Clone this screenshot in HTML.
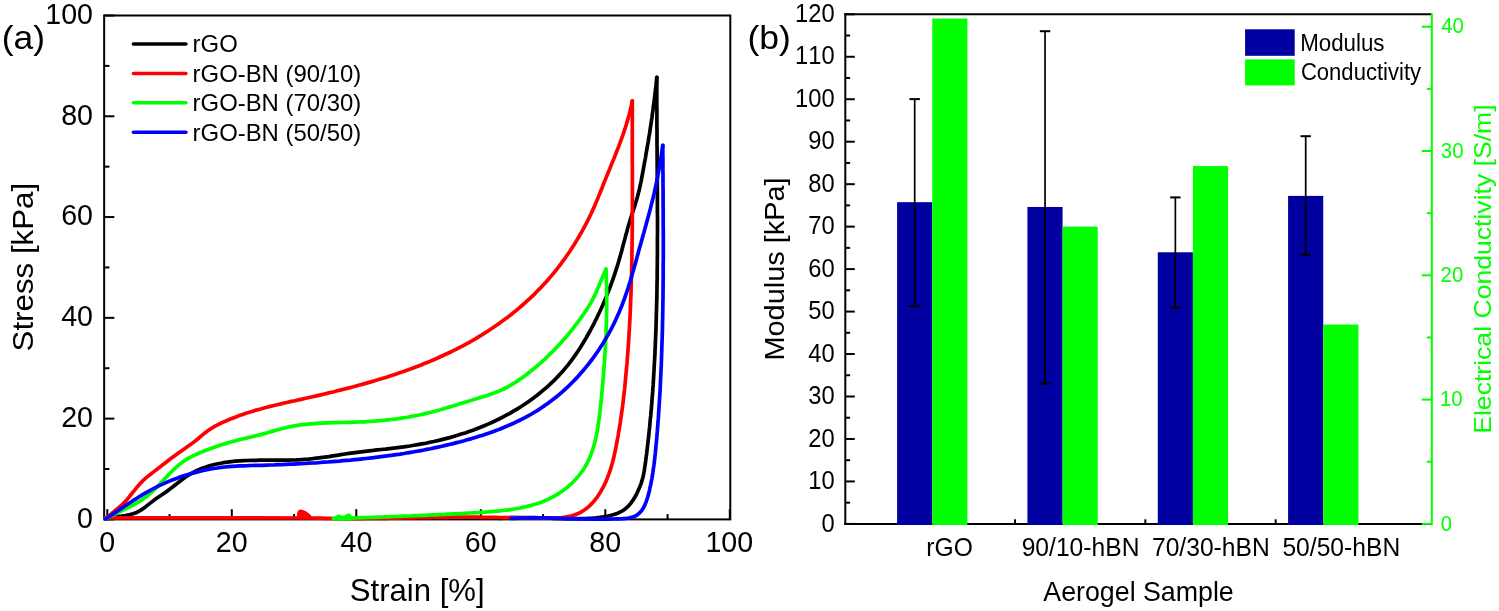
<!DOCTYPE html>
<html><head><meta charset="utf-8"><style>
html,body{margin:0;padding:0;background:#fff;}
svg{display:block;will-change:transform;}
text{font-family:"Liberation Sans",sans-serif;font-kerning:none;font-feature-settings:"kern" 0;}
</style></head><body>
<svg width="1499" height="611" viewBox="0 0 1499 611">
<rect width="1499" height="611" fill="#fff"/>
<rect x="104.15" y="15.50" width="626.15" height="503.90" fill="none" stroke="#000" stroke-width="2"/>
<line x1="104.15" y1="519.40" x2="114.35" y2="519.40" stroke="#000" stroke-width="2" stroke-linecap="butt"/>
<line x1="107.30" y1="519.40" x2="107.30" y2="509.20" stroke="#000" stroke-width="2" stroke-linecap="butt"/>
<line x1="104.15" y1="469.01" x2="109.45" y2="469.01" stroke="#000" stroke-width="2" stroke-linecap="butt"/>
<line x1="169.55" y1="519.40" x2="169.55" y2="514.10" stroke="#000" stroke-width="2" stroke-linecap="butt"/>
<line x1="104.15" y1="418.62" x2="114.35" y2="418.62" stroke="#000" stroke-width="2" stroke-linecap="butt"/>
<line x1="231.80" y1="519.40" x2="231.80" y2="509.20" stroke="#000" stroke-width="2" stroke-linecap="butt"/>
<line x1="104.15" y1="368.23" x2="109.45" y2="368.23" stroke="#000" stroke-width="2" stroke-linecap="butt"/>
<line x1="294.05" y1="519.40" x2="294.05" y2="514.10" stroke="#000" stroke-width="2" stroke-linecap="butt"/>
<line x1="104.15" y1="317.84" x2="114.35" y2="317.84" stroke="#000" stroke-width="2" stroke-linecap="butt"/>
<line x1="356.30" y1="519.40" x2="356.30" y2="509.20" stroke="#000" stroke-width="2" stroke-linecap="butt"/>
<line x1="104.15" y1="267.45" x2="109.45" y2="267.45" stroke="#000" stroke-width="2" stroke-linecap="butt"/>
<line x1="418.55" y1="519.40" x2="418.55" y2="514.10" stroke="#000" stroke-width="2" stroke-linecap="butt"/>
<line x1="104.15" y1="217.06" x2="114.35" y2="217.06" stroke="#000" stroke-width="2" stroke-linecap="butt"/>
<line x1="480.80" y1="519.40" x2="480.80" y2="509.20" stroke="#000" stroke-width="2" stroke-linecap="butt"/>
<line x1="104.15" y1="166.67" x2="109.45" y2="166.67" stroke="#000" stroke-width="2" stroke-linecap="butt"/>
<line x1="543.05" y1="519.40" x2="543.05" y2="514.10" stroke="#000" stroke-width="2" stroke-linecap="butt"/>
<line x1="104.15" y1="116.28" x2="114.35" y2="116.28" stroke="#000" stroke-width="2" stroke-linecap="butt"/>
<line x1="605.30" y1="519.40" x2="605.30" y2="509.20" stroke="#000" stroke-width="2" stroke-linecap="butt"/>
<line x1="104.15" y1="65.89" x2="109.45" y2="65.89" stroke="#000" stroke-width="2" stroke-linecap="butt"/>
<line x1="667.55" y1="519.40" x2="667.55" y2="514.10" stroke="#000" stroke-width="2" stroke-linecap="butt"/>
<line x1="104.15" y1="15.50" x2="114.35" y2="15.50" stroke="#000" stroke-width="2" stroke-linecap="butt"/>
<line x1="729.80" y1="519.40" x2="729.80" y2="509.20" stroke="#000" stroke-width="2" stroke-linecap="butt"/>
<path d="M105.5,519.0 L109.4,517.9 L113.4,517.1 L117.4,516.5 L121.3,516.1 L125.3,515.5 L129.2,514.8 L133.0,513.8 L136.7,512.4 L140.1,510.6 L143.5,508.4 L146.7,505.9 L149.9,503.4 L153.1,500.9 L156.3,498.5 L159.7,496.2 L163.0,494.0 L166.4,491.7 L169.6,489.3 L172.9,486.8 L176.1,484.2 L179.4,481.7 L182.6,479.2 L185.9,476.8 L189.3,474.6 L192.8,472.6 L196.4,470.7 L200.1,469.1 L203.8,467.7 L207.7,466.4 L211.5,465.3 L215.5,464.3 L219.4,463.5 L223.4,462.7 L227.4,462.1 L231.4,461.6 L235.4,461.2 L239.5,460.9 L243.5,460.7 L247.6,460.5 L251.6,460.4 L255.7,460.3 L259.8,460.2 L263.8,460.2 L267.9,460.2 L272.0,460.2 L276.1,460.2 L280.1,460.2 L284.2,460.2 L288.3,460.1 L292.4,460.0 L296.4,459.9 L300.5,459.7 L304.6,459.4 L308.6,459.1 L312.7,458.7 L316.7,458.2 L320.7,457.7 L324.8,457.1 L328.8,456.6 L332.8,455.9 L336.9,455.3 L340.9,454.7 L345.0,454.0 L349.0,453.4 L353.0,452.8 L357.1,452.3 L361.1,451.8 L365.2,451.3 L369.2,450.8 L373.3,450.4 L377.3,449.9 L381.4,449.5 L385.5,449.1 L389.5,448.6 L393.6,448.1 L397.6,447.6 L401.7,447.1 L405.7,446.6 L409.8,446.0 L413.8,445.3 L417.8,444.6 L421.8,443.9 L425.8,443.2 L429.8,442.3 L433.8,441.5 L437.8,440.6 L441.7,439.6 L445.7,438.6 L449.6,437.6 L453.5,436.5 L457.5,435.3 L461.3,434.1 L465.2,432.9 L469.1,431.5 L472.9,430.2 L476.7,428.7 L480.5,427.3 L484.3,425.7 L488.0,424.1 L491.7,422.5 L495.4,420.8 L499.1,419.0 L502.7,417.1 L506.3,415.2 L509.9,413.3 L513.4,411.2 L517.0,409.1 L520.4,407.0 L523.8,404.8 L527.2,402.5 L530.5,400.2 L533.8,397.8 L537.1,395.3 L540.2,392.8 L543.3,390.2 L546.4,387.6 L549.4,384.9 L552.3,382.1 L555.2,379.3 L558.0,376.4 L560.7,373.5 L563.4,370.5 L566.0,367.4 L568.5,364.3 L570.9,361.1 L573.3,357.9 L575.6,354.6 L577.9,351.3 L580.1,347.9 L582.2,344.5 L584.3,341.0 L586.4,337.5 L588.3,334.0 L590.3,330.5 L592.2,326.9 L594.1,323.3 L595.9,319.7 L597.7,316.0 L599.5,312.3 L601.2,308.6 L602.8,304.9 L604.4,301.1 L606.0,297.4 L607.5,293.6 L609.0,289.8 L610.5,286.0 L611.9,282.2 L613.2,278.3 L614.6,274.5 L615.8,270.6 L617.1,266.7 L618.3,262.8 L619.4,259.0 L620.5,255.1 L621.6,251.2 L622.6,247.3 L623.6,243.4 L624.7,239.5 L625.7,235.6 L626.8,231.7 L627.8,227.8 L629.0,223.9 L630.1,220.1 L631.4,216.2 L632.6,212.4 L633.8,208.6 L635.1,204.7 L636.2,200.9 L637.4,197.0 L638.4,193.1 L639.4,189.2 L640.2,185.3 L641.1,181.3 L641.8,177.4 L642.6,173.4 L643.3,169.5 L644.0,165.5 L644.7,161.6 L645.5,157.6 L646.1,153.6 L646.8,149.6 L647.5,145.7 L648.2,141.7 L648.8,137.7 L649.5,133.7 L650.1,129.7 L650.7,125.7 L651.3,121.7 L651.9,117.7 L652.4,113.7 L653.0,109.7 L653.5,105.7 L654.1,101.6 L654.6,97.6 L655.0,93.6 L655.5,89.5 L656.0,85.5 L656.4,81.5 L656.8,77.4" fill="none" stroke="#000000" stroke-width="3.7" stroke-linejoin="round" stroke-linecap="round"/>
<path d="M656.8,77.4 L656.8,77.4 L656.8,80.9 L656.8,84.4 L656.8,87.9 L656.8,91.4 L656.8,95.0 L656.8,98.5 L656.8,102.0 L656.8,105.5 L656.9,109.1 L656.9,112.6 L656.9,116.1 L656.9,119.7 L656.9,123.2 L656.9,126.8 L657.0,130.3 L657.0,133.9 L657.0,137.5 L657.0,141.0 L657.0,144.6 L657.1,148.1 L657.1,151.7 L657.1,155.3 L657.1,158.9 L657.2,162.4 L657.2,166.0 L657.2,169.6 L657.2,173.2 L657.3,176.8 L657.3,180.3 L657.3,183.9 L657.3,187.5 L657.4,191.1 L657.4,194.7 L657.4,198.3 L657.4,201.9 L657.4,205.5 L657.4,209.1 L657.4,212.7 L657.5,216.3 L657.5,219.9 L657.5,223.5 L657.5,227.1 L657.5,230.6 L657.5,234.2 L657.4,237.8 L657.4,241.4 L657.4,245.0 L657.4,248.6 L657.4,252.2 L657.4,255.8 L657.3,259.4 L657.3,263.0 L657.3,266.6 L657.2,270.2 L657.2,273.8 L657.2,277.4 L657.1,281.0 L657.0,284.6 L657.0,288.2 L656.9,291.8 L656.9,295.4 L656.8,299.0 L656.7,302.6 L656.6,306.1 L656.5,309.7 L656.4,313.3 L656.3,316.9 L656.2,320.5 L656.1,324.0 L656.0,327.6 L655.9,331.2 L655.7,334.7 L655.6,338.3 L655.4,341.9 L655.3,345.4 L655.1,349.0 L655.0,352.5 L654.8,356.1 L654.6,359.7 L654.4,363.2 L654.2,366.7 L654.0,370.3 L653.8,373.8 L653.6,377.3 L653.4,380.9 L653.2,384.4 L652.9,387.9 L652.7,391.4 L652.4,395.0 L652.1,398.5 L651.9,402.0 L651.6,405.5 L651.3,409.0 L651.0,412.5 L650.7,415.9 L650.3,419.4 L650.0,422.9 L649.7,426.4 L649.3,429.8 L649.0,433.3 L648.6,436.8 L648.2,440.2 L647.8,443.7 L647.4,447.1 L647.0,450.5 L646.6,454.0 L646.1,457.4 L645.7,460.8 L645.2,464.2 L644.7,467.6 L644.2,471.0 L643.6,474.4 L642.8,477.7 L641.9,480.9 L640.9,484.1 L639.6,487.3 L638.2,490.5 L636.7,493.8 L634.9,497.0 L633.0,500.2 L630.9,503.1 L628.6,505.8 L626.1,508.2 L623.3,510.3 L620.3,512.0 L617.2,513.4 L613.9,514.6 L610.5,515.6 L607.0,516.3 L603.4,516.9 L599.8,517.4 L596.2,517.8 L592.6,518.1 L589.0,518.3 L585.4,518.5 L581.8,518.6 L578.2,518.7 L574.7,518.7 L571.1,518.7 L567.5,518.7 L564.0,518.6 L560.5,518.5 L556.9,518.4 L553.4,518.3 L549.9,518.2 L546.3,518.1 L542.8,518.0 L539.3,517.8 L535.7,517.7 L532.2,517.7 L528.6,517.6 L525.1,517.5 L521.5,517.5 L518.0,517.6 L514.4,517.6 L510.8,517.7 L507.2,517.9 L503.6,518.1 L500.0,518.4" fill="none" stroke="#000000" stroke-width="3.7" stroke-linejoin="round" stroke-linecap="round"/>
<path d="M105.5,519.0 L108.0,516.6 L110.7,514.3 L113.3,512.1 L115.9,509.9 L118.6,507.8 L121.2,505.5 L123.7,503.1 L126.1,500.6 L128.4,497.8 L130.7,495.0 L133.0,492.1 L135.3,489.3 L137.6,486.4 L140.0,483.7 L142.5,481.1 L145.1,478.7 L147.8,476.4 L150.6,474.2 L153.3,472.1 L156.1,469.9 L158.9,467.8 L161.7,465.6 L164.5,463.5 L167.3,461.3 L170.1,459.1 L172.9,457.0 L175.8,454.9 L178.7,452.8 L181.7,450.7 L184.6,448.7 L187.6,446.6 L190.5,444.6 L193.4,442.4 L196.2,440.2 L198.9,438.0 L201.6,435.7 L204.3,433.4 L207.1,431.3 L210.0,429.3 L213.0,427.4 L216.1,425.6 L219.3,424.0 L222.6,422.4 L225.9,421.0 L229.2,419.5 L232.5,418.2 L235.9,416.9 L239.2,415.6 L242.6,414.5 L246.0,413.3 L249.4,412.2 L252.9,411.2 L256.3,410.1 L259.8,409.2 L263.3,408.2 L266.8,407.3 L270.3,406.4 L273.8,405.5 L277.3,404.7 L280.8,403.9 L284.3,403.0 L287.9,402.2 L291.4,401.4 L295.0,400.7 L298.5,399.9 L302.1,399.1 L305.6,398.3 L309.2,397.5 L312.7,396.7 L316.3,395.9 L319.8,395.1 L323.4,394.2 L326.9,393.4 L330.4,392.5 L334.0,391.7 L337.5,390.8 L341.0,389.9 L344.6,389.0 L348.1,388.1 L351.6,387.2 L355.1,386.3 L358.6,385.3 L362.1,384.4 L365.6,383.4 L369.1,382.4 L372.6,381.4 L376.1,380.3 L379.5,379.3 L383.0,378.2 L386.5,377.2 L389.9,376.0 L393.3,374.9 L396.8,373.8 L400.2,372.6 L403.6,371.4 L407.0,370.2 L410.4,369.0 L413.8,367.7 L417.1,366.5 L420.5,365.2 L423.8,363.8 L427.2,362.5 L430.5,361.1 L433.8,359.7 L437.1,358.3 L440.3,356.8 L443.6,355.3 L446.9,353.8 L450.1,352.3 L453.3,350.7 L456.5,349.1 L459.7,347.4 L462.9,345.8 L466.0,344.1 L469.2,342.3 L472.3,340.6 L475.4,338.8 L478.5,336.9 L481.5,335.1 L484.6,333.2 L487.6,331.3 L490.6,329.3 L493.6,327.3 L496.5,325.3 L499.4,323.2 L502.4,321.1 L505.2,319.0 L508.1,316.9 L510.9,314.7 L513.7,312.4 L516.5,310.2 L519.3,307.9 L522.0,305.5 L524.7,303.2 L527.4,300.7 L530.0,298.3 L532.6,295.8 L535.2,293.3 L537.7,290.7 L540.3,288.2 L542.7,285.5 L545.2,282.9 L547.6,280.2 L550.0,277.4 L552.4,274.6 L554.7,271.8 L557.0,269.0 L559.2,266.1 L561.4,263.1 L563.6,260.2 L565.7,257.2 L567.8,254.2 L569.9,251.2 L571.9,248.1 L573.9,245.0 L575.8,241.9 L577.7,238.8 L579.5,235.7 L581.3,232.5 L583.1,229.4 L584.8,226.2 L586.5,223.0 L588.1,219.9 L589.6,216.7 L591.2,213.5 L592.6,210.3 L594.1,207.1 L595.4,204.0 L596.8,200.8 L598.1,197.6 L599.4,194.4 L600.7,191.2 L602.0,188.0 L603.2,184.8 L604.5,181.6 L605.8,178.4 L607.1,175.2 L608.4,171.9 L609.8,168.7 L611.1,165.4 L612.4,162.1 L613.8,158.9 L615.1,155.6 L616.4,152.2 L617.7,148.9 L619.0,145.6 L620.2,142.2 L621.5,138.9 L622.7,135.5 L623.8,132.1 L625.0,128.7 L626.1,125.3 L627.1,121.8 L628.1,118.4 L629.1,114.9 L630.0,111.4 L630.8,107.9 L631.6,104.4 L632.3,100.9" fill="none" stroke="#FF0000" stroke-width="3.7" stroke-linejoin="round" stroke-linecap="round"/>
<path d="M632.3,100.9 L632.3,100.9 L632.3,105.2 L632.3,109.6 L632.3,113.9 L632.3,118.2 L632.3,122.6 L632.3,126.9 L632.3,131.3 L632.3,135.6 L632.3,140.0 L632.3,144.3 L632.3,148.7 L632.3,153.0 L632.3,157.4 L632.3,161.8 L632.4,166.1 L632.4,170.5 L632.4,174.9 L632.4,179.3 L632.4,183.7 L632.4,188.0 L632.4,192.4 L632.4,196.8 L632.4,201.2 L632.4,205.6 L632.4,210.0 L632.3,214.4 L632.3,218.7 L632.3,223.1 L632.3,227.5 L632.2,231.9 L632.2,236.3 L632.1,240.7 L632.1,245.1 L632.0,249.5 L631.9,253.9 L631.9,258.3 L631.8,262.6 L631.7,267.0 L631.6,271.4 L631.5,275.8 L631.4,280.2 L631.2,284.6 L631.1,288.9 L631.0,293.3 L630.8,297.7 L630.6,302.1 L630.5,306.4 L630.3,310.8 L630.1,315.2 L629.9,319.5 L629.6,323.9 L629.4,328.3 L629.1,332.6 L628.9,337.0 L628.6,341.3 L628.3,345.7 L628.0,350.0 L627.7,354.3 L627.3,358.7 L627.0,363.0 L626.6,367.3 L626.2,371.6 L625.8,375.9 L625.4,380.3 L625.0,384.6 L624.6,388.9 L624.1,393.2 L623.6,397.4 L623.1,401.7 L622.6,406.0 L622.0,410.3 L621.4,414.5 L620.8,418.8 L620.2,423.1 L619.5,427.3 L618.8,431.5 L618.1,435.8 L617.3,440.0 L616.5,444.2 L615.7,448.4 L614.8,452.7 L613.9,456.8 L612.9,461.0 L611.7,465.2 L610.5,469.3 L609.1,473.4 L607.6,477.4 L605.9,481.5 L604.1,485.4 L602.0,489.3 L599.8,493.1 L597.4,496.8 L594.8,500.2 L592.0,503.4 L589.0,506.4 L585.8,509.0 L582.3,511.3 L578.7,513.3 L574.9,514.8 L570.9,516.0 L566.7,516.8 L562.4,517.5 L558.0,517.9 L553.5,518.1 L549.0,518.2 L544.5,518.2 L539.9,518.1 L535.4,518.1 L530.9,518.0 L526.4,517.9 L521.9,517.9 L517.5,517.8 L513.0,517.7 L508.6,517.6 L504.2,517.6 L499.8,517.5 L495.4,517.4 L491.1,517.4 L486.7,517.3 L482.3,517.3 L477.9,517.2 L473.6,517.2 L469.2,517.2 L464.9,517.2 L460.5,517.2 L456.1,517.2 L451.8,517.2 L447.4,517.3 L443.1,517.3 L438.7,517.4 L434.3,517.4 L430.0,517.5 L425.6,517.6 L421.3,517.7 L416.9,517.7 L412.5,517.8 L408.2,517.9 L403.8,518.0 L399.4,518.1 L395.1,518.1 L390.7,518.2 L386.3,518.3 L382.0,518.3 L377.6,518.4 L373.2,518.5 L368.9,518.5 L364.5,518.5 L360.1,518.6 L355.8,518.6 L351.4,518.6 L347.0,518.6 L342.6,518.6 L338.3,518.5 L333.9,518.5 L329.5,518.4 L325.1,518.3 L320.8,518.2 L316.4,518.1 L312.0,518.0 L105.5,517.9" fill="none" stroke="#FF0000" stroke-width="3.7" stroke-linejoin="round" stroke-linecap="round"/>
<path d="M297.6,518.5 L297.9,513 L298.8,511.2 L300.3,510.3 L302.3,510.7 L304.5,511.5 L306.8,512.8 L308.8,514.4 L310.6,516.2 L311.6,518.5 Z" fill="#FF0000" stroke="#FF0000" stroke-width="1.6" stroke-linejoin="round"/>
<path d="M105.5,519.0 L108.1,517.6 L110.7,516.2 L113.3,514.8 L116.0,513.5 L118.7,512.2 L121.4,510.9 L124.1,509.6 L126.8,508.2 L129.5,506.9 L132.2,505.5 L134.8,504.1 L137.4,502.6 L139.9,501.1 L142.4,499.5 L144.8,497.8 L147.2,496.0 L149.4,494.1 L151.7,492.1 L153.8,490.1 L155.9,488.1 L158.0,486.0 L160.1,483.8 L162.1,481.6 L164.1,479.5 L166.2,477.3 L168.2,475.1 L170.3,473.0 L172.4,470.9 L174.5,468.8 L176.7,466.8 L178.9,464.9 L181.2,463.1 L183.6,461.3 L186.0,459.7 L188.5,458.2 L191.1,456.8 L193.8,455.5 L196.5,454.2 L199.2,453.0 L202.0,451.9 L204.7,450.8 L207.5,449.7 L210.3,448.7 L213.1,447.7 L215.9,446.7 L218.7,445.7 L221.5,444.8 L224.4,443.9 L227.2,443.1 L230.0,442.2 L232.9,441.4 L235.7,440.7 L238.6,439.9 L241.4,439.2 L244.3,438.6 L247.1,437.9 L250.0,437.2 L252.9,436.5 L255.8,435.8 L258.6,435.1 L261.5,434.4 L264.4,433.6 L267.2,432.8 L270.1,431.9 L273.0,431.1 L275.9,430.3 L278.8,429.5 L281.6,428.7 L284.5,428.0 L287.4,427.3 L290.3,426.7 L293.3,426.1 L296.2,425.6 L299.1,425.1 L302.0,424.7 L305.0,424.4 L307.9,424.1 L310.9,423.8 L313.8,423.6 L316.8,423.4 L319.8,423.2 L322.7,423.1 L325.7,422.9 L328.7,422.8 L331.7,422.7 L334.6,422.7 L337.6,422.6 L340.6,422.5 L343.6,422.5 L346.6,422.4 L349.6,422.3 L352.5,422.2 L355.5,422.2 L358.5,422.0 L361.5,421.9 L364.5,421.8 L367.4,421.6 L370.4,421.4 L373.4,421.2 L376.4,421.0 L379.3,420.7 L382.3,420.5 L385.2,420.2 L388.2,419.8 L391.1,419.5 L394.1,419.1 L397.0,418.8 L400.0,418.4 L402.9,417.9 L405.8,417.5 L408.8,417.0 L411.7,416.4 L414.6,415.9 L417.5,415.3 L420.4,414.7 L423.3,414.1 L426.2,413.4 L429.1,412.7 L431.9,412.0 L434.8,411.3 L437.7,410.5 L440.5,409.7 L443.4,408.8 L446.2,408.0 L449.1,407.1 L451.9,406.3 L454.7,405.4 L457.6,404.5 L460.4,403.6 L463.2,402.8 L466.0,401.9 L468.8,401.0 L471.7,400.2 L474.5,399.3 L477.3,398.5 L480.1,397.6 L482.9,396.8 L485.7,395.9 L488.5,395.0 L491.3,394.0 L494.0,393.0 L496.7,392.0 L499.4,390.9 L502.1,389.7 L504.7,388.5 L507.3,387.1 L509.9,385.7 L512.4,384.2 L514.9,382.7 L517.3,381.1 L519.8,379.4 L522.2,377.7 L524.6,376.0 L527.0,374.2 L529.3,372.3 L531.6,370.5 L533.9,368.6 L536.2,366.7 L538.4,364.8 L540.7,362.8 L542.9,360.8 L545.1,358.8 L547.2,356.8 L549.3,354.7 L551.5,352.6 L553.6,350.5 L555.6,348.4 L557.7,346.2 L559.7,344.1 L561.7,341.9 L563.6,339.6 L565.6,337.4 L567.5,335.2 L569.4,332.9 L571.3,330.6 L573.1,328.3 L574.9,325.9 L576.7,323.6 L578.5,321.2 L580.3,318.8 L582.0,316.4 L583.7,314.0 L585.3,311.6 L587.0,309.1 L588.5,306.6 L590.0,304.1 L591.5,301.6 L592.9,299.0 L594.2,296.4 L595.5,293.7 L596.7,291.0 L597.8,288.3 L599.0,285.6 L600.1,282.9 L601.3,280.1 L602.4,277.4 L603.6,274.7 L604.8,271.9 L606.0,269.2" fill="none" stroke="#00FF00" stroke-width="3.7" stroke-linejoin="round" stroke-linecap="round"/>
<path d="M606.0,269.2 L606.0,269.2 L606.1,272.1 L606.2,274.9 L606.3,277.8 L606.4,280.7 L606.5,283.5 L606.6,286.4 L606.6,289.3 L606.7,292.1 L606.7,295.0 L606.7,297.8 L606.7,300.7 L606.7,303.5 L606.7,306.4 L606.7,309.2 L606.6,312.1 L606.6,315.0 L606.5,317.8 L606.5,320.7 L606.4,323.5 L606.3,326.3 L606.2,329.2 L606.1,332.0 L606.0,334.9 L605.8,337.7 L605.7,340.6 L605.6,343.4 L605.4,346.3 L605.3,349.1 L605.1,351.9 L604.9,354.8 L604.7,357.6 L604.5,360.5 L604.3,363.3 L604.1,366.1 L603.9,369.0 L603.7,371.8 L603.5,374.7 L603.3,377.5 L603.0,380.3 L602.8,383.2 L602.5,386.0 L602.3,388.9 L602.0,391.7 L601.7,394.5 L601.5,397.4 L601.2,400.2 L600.9,403.1 L600.6,405.9 L600.3,408.7 L600.0,411.6 L599.7,414.4 L599.3,417.2 L598.9,420.0 L598.5,422.8 L598.1,425.6 L597.7,428.4 L597.2,431.1 L596.7,433.9 L596.1,436.6 L595.5,439.3 L594.9,442.0 L594.2,444.6 L593.4,447.3 L592.6,449.9 L591.7,452.4 L590.8,454.9 L589.8,457.4 L588.7,459.9 L587.5,462.3 L586.3,464.6 L585.0,466.9 L583.6,469.2 L582.1,471.4 L580.5,473.5 L578.9,475.6 L577.2,477.6 L575.4,479.6 L573.6,481.5 L571.7,483.4 L569.7,485.2 L567.7,487.0 L565.6,488.6 L563.4,490.3 L561.2,491.8 L559.0,493.3 L556.7,494.7 L554.3,496.1 L551.9,497.4 L549.4,498.6 L546.9,499.8 L544.4,500.9 L541.8,501.9 L539.2,502.9 L536.5,503.8 L533.8,504.6 L531.1,505.4 L528.4,506.1 L525.6,506.8 L522.8,507.4 L520.0,508.0 L517.1,508.5 L514.2,509.0 L511.4,509.4 L508.5,509.8 L505.6,510.2 L502.6,510.5 L499.7,510.9 L496.8,511.1 L493.8,511.4 L490.9,511.6 L487.9,511.9 L485.0,512.1 L482.0,512.3 L479.1,512.5 L476.2,512.6 L473.3,512.8 L470.4,513.0 L467.5,513.1 L464.6,513.3 L461.7,513.5 L458.8,513.6 L456.0,513.8 L453.1,513.9 L450.3,514.1 L447.4,514.2 L444.6,514.4 L441.8,514.5 L439.0,514.6 L436.1,514.8 L433.3,514.9 L430.5,515.0 L427.7,515.1 L424.9,515.3 L422.1,515.4 L419.3,515.5 L416.5,515.6 L413.7,515.7 L410.9,515.9 L408.1,516.0 L405.2,516.1 L402.4,516.2 L399.6,516.3 L396.8,516.4 L394.0,516.5 L391.2,516.6 L388.3,516.8 L385.5,516.9 L382.7,517.0 L379.8,517.1 L377.0,517.2 L374.1,517.3 L371.3,517.4 L368.4,517.5 L365.5,517.6 L362.6,517.7 L359.7,517.8 L356.8,518.0 L353.9,518.1 L351.0,518.2 L333.2,518.5" fill="none" stroke="#00FF00" stroke-width="3.7" stroke-linejoin="round" stroke-linecap="round"/>
<path d="M333.4,519.6 L334.3,517.6 L336.3,516.4 L338.6,515.2 L340.6,516.0 L342.3,516.6 L344.5,516.2 L346.8,515.0 L348.8,514.1 L350.3,514.8 L351.3,516.8 L351.5,519.6 Z" fill="#00FF00" stroke="#00FF00" stroke-width="1.6" stroke-linejoin="round"/>
<path d="M105.5,519.0 L108.8,516.9 L112.0,514.7 L115.2,512.6 L118.3,510.5 L121.4,508.4 L124.5,506.3 L127.6,504.3 L130.7,502.3 L133.7,500.2 L136.8,498.3 L139.9,496.3 L143.0,494.4 L146.1,492.6 L149.3,490.8 L152.6,489.0 L155.8,487.3 L159.2,485.7 L162.5,484.1 L166.0,482.6 L169.4,481.1 L172.9,479.7 L176.5,478.4 L180.1,477.1 L183.7,475.8 L187.3,474.7 L191.0,473.6 L194.7,472.6 L198.4,471.6 L202.1,470.7 L205.8,469.9 L209.6,469.2 L213.4,468.5 L217.2,468.0 L221.0,467.4 L224.8,467.0 L228.6,466.7 L232.4,466.4 L236.2,466.1 L240.0,465.9 L243.8,465.8 L247.6,465.7 L251.4,465.5 L255.2,465.4 L259.1,465.4 L262.9,465.3 L266.7,465.1 L270.5,465.0 L274.3,464.9 L278.2,464.7 L282.0,464.6 L285.8,464.4 L289.6,464.2 L293.4,464.1 L297.3,463.9 L301.1,463.7 L304.9,463.5 L308.7,463.2 L312.5,463.0 L316.4,462.8 L320.2,462.5 L324.0,462.2 L327.8,462.0 L331.6,461.7 L335.5,461.4 L339.3,461.1 L343.1,460.7 L346.9,460.4 L350.7,460.1 L354.6,459.7 L358.4,459.3 L362.2,458.9 L366.0,458.5 L369.8,458.1 L373.6,457.7 L377.4,457.2 L381.2,456.7 L385.0,456.2 L388.8,455.7 L392.6,455.2 L396.4,454.6 L400.2,454.1 L404.0,453.5 L407.8,452.8 L411.6,452.2 L415.4,451.5 L419.2,450.9 L422.9,450.2 L426.7,449.4 L430.5,448.7 L434.2,447.9 L438.0,447.1 L441.8,446.3 L445.5,445.4 L449.3,444.5 L453.0,443.6 L456.7,442.6 L460.5,441.7 L464.2,440.7 L467.9,439.6 L471.6,438.6 L475.3,437.5 L479.0,436.3 L482.7,435.2 L486.3,433.9 L490.0,432.7 L493.6,431.4 L497.2,430.1 L500.7,428.7 L504.3,427.2 L507.8,425.8 L511.3,424.2 L514.7,422.7 L518.2,421.0 L521.5,419.3 L524.9,417.6 L528.2,415.8 L531.5,414.0 L534.8,412.0 L538.0,410.1 L541.1,408.0 L544.2,405.9 L547.3,403.8 L550.3,401.6 L553.3,399.3 L556.2,397.0 L559.1,394.6 L562.0,392.1 L564.8,389.6 L567.5,387.1 L570.2,384.5 L572.9,381.8 L575.5,379.1 L578.0,376.4 L580.5,373.6 L583.0,370.7 L585.4,367.9 L587.8,364.9 L590.1,362.0 L592.4,359.0 L594.6,355.9 L596.8,352.8 L598.9,349.7 L600.9,346.6 L603.0,343.4 L604.9,340.1 L606.8,336.9 L608.7,333.6 L610.5,330.3 L612.3,326.9 L614.0,323.5 L615.6,320.1 L617.2,316.6 L618.8,313.1 L620.2,309.6 L621.7,306.1 L623.0,302.5 L624.4,298.9 L625.6,295.3 L626.9,291.7 L628.1,288.1 L629.2,284.4 L630.4,280.7 L631.4,277.0 L632.5,273.3 L633.6,269.6 L634.6,265.9 L635.7,262.2 L636.7,258.4 L637.7,254.7 L638.7,251.0 L639.7,247.3 L640.8,243.6 L641.8,239.9 L642.8,236.2 L643.9,232.5 L644.9,228.8 L645.9,225.2 L646.9,221.5 L647.9,217.8 L648.9,214.2 L649.9,210.6 L650.8,206.9 L651.7,203.3 L652.6,199.7 L653.5,196.1 L654.3,192.6 L655.1,189.0 L655.9,185.4 L656.6,181.9 L657.3,178.3 L658.0,174.8 L658.6,171.2 L659.3,167.6 L659.9,164.0 L660.5,160.4 L661.1,156.7 L661.7,152.9 L662.2,149.1 L662.8,145.3" fill="none" stroke="#0000FF" stroke-width="3.7" stroke-linejoin="round" stroke-linecap="round"/>
<path d="M662.8,145.3 L662.8,145.3 L662.8,148.5 L662.8,151.6 L662.8,154.8 L662.9,158.0 L662.9,161.2 L662.9,164.3 L662.9,167.5 L662.9,170.7 L663.0,173.9 L663.0,177.0 L663.0,180.2 L663.0,183.4 L663.0,186.6 L663.1,189.8 L663.1,192.9 L663.1,196.1 L663.1,199.3 L663.1,202.5 L663.1,205.7 L663.2,208.8 L663.2,212.0 L663.2,215.2 L663.2,218.4 L663.2,221.6 L663.2,224.8 L663.2,227.9 L663.3,231.1 L663.3,234.3 L663.3,237.5 L663.3,240.7 L663.3,243.9 L663.3,247.0 L663.3,250.2 L663.3,253.4 L663.3,256.6 L663.3,259.8 L663.2,263.0 L663.2,266.1 L663.2,269.3 L663.2,272.5 L663.2,275.7 L663.2,278.9 L663.1,282.1 L663.1,285.3 L663.1,288.4 L663.0,291.6 L663.0,294.8 L663.0,298.0 L662.9,301.2 L662.9,304.4 L662.8,307.6 L662.8,310.7 L662.7,313.9 L662.7,317.1 L662.6,320.3 L662.5,323.5 L662.5,326.7 L662.4,329.8 L662.3,333.0 L662.2,336.2 L662.1,339.4 L662.0,342.6 L661.9,345.7 L661.8,348.9 L661.7,352.1 L661.6,355.3 L661.5,358.5 L661.4,361.6 L661.3,364.8 L661.1,368.0 L661.0,371.2 L660.8,374.3 L660.7,377.5 L660.5,380.7 L660.4,383.9 L660.2,387.0 L660.1,390.2 L659.9,393.4 L659.7,396.6 L659.5,399.7 L659.3,402.9 L659.1,406.1 L658.9,409.2 L658.7,412.4 L658.5,415.6 L658.3,418.7 L658.0,421.9 L657.8,425.1 L657.5,428.2 L657.3,431.4 L657.0,434.6 L656.8,437.7 L656.5,440.9 L656.2,444.0 L655.9,447.2 L655.6,450.3 L655.3,453.5 L654.9,456.6 L654.6,459.8 L654.2,462.9 L653.8,466.0 L653.3,469.2 L652.9,472.3 L652.4,475.4 L651.9,478.5 L651.3,481.6 L650.7,484.6 L650.0,487.7 L649.4,490.7 L648.6,493.8 L647.8,496.7 L646.9,499.6 L645.9,502.4 L644.8,505.1 L643.6,507.5 L642.2,509.9 L640.6,511.9 L638.7,513.7 L636.6,515.3 L634.3,516.5 L631.6,517.3 L628.7,518.0 L625.7,518.4 L622.5,518.7 L619.3,518.8 L616.1,518.9 L612.9,519.0 L609.6,519.1 L606.4,519.2 L603.2,519.2 L600.0,519.2 L596.8,519.2 L593.6,519.1 L590.4,519.1 L587.2,519.1 L584.0,519.0 L580.8,518.9 L577.6,518.8 L574.4,518.7 L571.3,518.7 L568.1,518.6 L564.9,518.5 L561.7,518.4 L558.6,518.3 L555.4,518.2 L552.2,518.1 L549.0,518.1 L545.9,518.0 L542.7,518.0 L539.5,517.9 L536.4,517.9 L533.2,517.9 L530.0,517.9 L526.9,518.0 L523.7,518.0 L520.5,518.1 L517.3,518.2 L514.2,518.3 L511.0,518.5" fill="none" stroke="#0000FF" stroke-width="3.7" stroke-linejoin="round" stroke-linecap="round"/>
<text transform="translate(77.11,527.80)" font-size="28.60" fill="#000">0</text>
<text transform="translate(99.35,552.30)" font-size="28.60" fill="#000">0</text>
<text transform="translate(61.21,427.02)" font-size="28.60" fill="#000">20</text>
<text transform="translate(215.73,552.30)" font-size="28.60" fill="#000">20</text>
<text transform="translate(61.21,326.24)" font-size="28.60" fill="#000">40</text>
<text transform="translate(340.62,552.30)" font-size="28.60" fill="#000">40</text>
<text transform="translate(61.21,225.46)" font-size="28.60" fill="#000">60</text>
<text transform="translate(464.73,552.30)" font-size="28.60" fill="#000">60</text>
<text transform="translate(61.21,124.68)" font-size="28.60" fill="#000">80</text>
<text transform="translate(589.33,552.30)" font-size="28.60" fill="#000">80</text>
<text transform="translate(45.30,23.90)" font-size="28.60" fill="#000">100</text>
<text transform="translate(705.41,552.30)" font-size="28.60" fill="#000">100</text>
<line x1="133.40" y1="44.10" x2="185.90" y2="44.10" stroke="#000000" stroke-width="3.5" stroke-linecap="round"/>
<text transform="translate(192.61,52.40)" font-size="23.90" fill="#000">rGO</text>
<line x1="133.40" y1="73.47" x2="185.90" y2="73.47" stroke="#FF0000" stroke-width="3.5" stroke-linecap="round"/>
<text transform="translate(192.61,81.77)" font-size="23.90" fill="#000">rGO-BN (90/10)</text>
<line x1="133.40" y1="102.84" x2="185.90" y2="102.84" stroke="#00FF00" stroke-width="3.5" stroke-linecap="round"/>
<text transform="translate(192.61,111.14)" font-size="23.90" fill="#000">rGO-BN (70/30)</text>
<line x1="133.40" y1="132.21" x2="185.90" y2="132.21" stroke="#0000FF" stroke-width="3.5" stroke-linecap="round"/>
<text transform="translate(192.61,140.51)" font-size="23.90" fill="#000">rGO-BN (50/50)</text>
<text transform="translate(1.70,49.23) scale(1.0378,1)" font-size="34.13" fill="#000">(a)</text>
<text transform="translate(349.79,600.56) scale(1.0180,1)" font-size="30.58" fill="#000">Strain [%]</text>
<text transform="translate(33.01,351.42) rotate(-90) scale(1.0490,1)" font-size="29.82" fill="#000">Stress [kPa]</text>
<line x1="844.30" y1="14.30" x2="1431.80" y2="14.30" stroke="#000" stroke-width="2" stroke-linecap="butt"/>
<line x1="844.30" y1="523.90" x2="1431.80" y2="523.90" stroke="#000" stroke-width="2" stroke-linecap="butt"/>
<line x1="845.30" y1="13.30" x2="845.30" y2="524.90" stroke="#000" stroke-width="2" stroke-linecap="butt"/>
<rect x="897.10" y="202.17" width="35.15" height="322.83" fill="#0000A0"/>
<rect x="932.25" y="18.53" width="35.15" height="506.47" fill="#00FF00"/>
<rect x="1027.43" y="206.97" width="35.15" height="318.03" fill="#0000A0"/>
<rect x="1062.58" y="226.59" width="35.15" height="298.41" fill="#00FF00"/>
<rect x="1157.76" y="252.28" width="35.15" height="272.72" fill="#0000A0"/>
<rect x="1192.91" y="166.06" width="35.15" height="358.94" fill="#00FF00"/>
<rect x="1288.09" y="195.89" width="35.15" height="329.11" fill="#0000A0"/>
<rect x="1323.24" y="324.53" width="35.15" height="200.47" fill="#00FF00"/>
<line x1="914.70" y1="99.10" x2="914.70" y2="306.10" stroke="#000" stroke-width="1.7" stroke-linecap="butt"/>
<line x1="909.50" y1="99.10" x2="919.90" y2="99.10" stroke="#000" stroke-width="2" stroke-linecap="butt"/>
<line x1="909.50" y1="306.10" x2="919.90" y2="306.10" stroke="#000" stroke-width="2" stroke-linecap="butt"/>
<line x1="1045.03" y1="31.20" x2="1045.03" y2="383.60" stroke="#000" stroke-width="1.7" stroke-linecap="butt"/>
<line x1="1039.83" y1="31.20" x2="1050.23" y2="31.20" stroke="#000" stroke-width="2" stroke-linecap="butt"/>
<line x1="1039.83" y1="383.60" x2="1050.23" y2="383.60" stroke="#000" stroke-width="2" stroke-linecap="butt"/>
<line x1="1175.36" y1="197.40" x2="1175.36" y2="307.60" stroke="#000" stroke-width="1.7" stroke-linecap="butt"/>
<line x1="1170.16" y1="197.40" x2="1180.56" y2="197.40" stroke="#000" stroke-width="2" stroke-linecap="butt"/>
<line x1="1170.16" y1="307.60" x2="1180.56" y2="307.60" stroke="#000" stroke-width="2" stroke-linecap="butt"/>
<line x1="1305.69" y1="136.20" x2="1305.69" y2="255.00" stroke="#000" stroke-width="1.7" stroke-linecap="butt"/>
<line x1="1300.49" y1="136.20" x2="1310.89" y2="136.20" stroke="#000" stroke-width="2" stroke-linecap="butt"/>
<line x1="1300.49" y1="255.00" x2="1310.89" y2="255.00" stroke="#000" stroke-width="2" stroke-linecap="butt"/>
<line x1="845.30" y1="523.90" x2="854.80" y2="523.90" stroke="#000" stroke-width="2" stroke-linecap="butt"/>
<line x1="845.30" y1="502.67" x2="850.10" y2="502.67" stroke="#000" stroke-width="2" stroke-linecap="butt"/>
<line x1="845.30" y1="481.43" x2="854.80" y2="481.43" stroke="#000" stroke-width="2" stroke-linecap="butt"/>
<line x1="845.30" y1="460.20" x2="850.10" y2="460.20" stroke="#000" stroke-width="2" stroke-linecap="butt"/>
<line x1="845.30" y1="438.97" x2="854.80" y2="438.97" stroke="#000" stroke-width="2" stroke-linecap="butt"/>
<line x1="845.30" y1="417.73" x2="850.10" y2="417.73" stroke="#000" stroke-width="2" stroke-linecap="butt"/>
<line x1="845.30" y1="396.50" x2="854.80" y2="396.50" stroke="#000" stroke-width="2" stroke-linecap="butt"/>
<line x1="845.30" y1="375.27" x2="850.10" y2="375.27" stroke="#000" stroke-width="2" stroke-linecap="butt"/>
<line x1="845.30" y1="354.03" x2="854.80" y2="354.03" stroke="#000" stroke-width="2" stroke-linecap="butt"/>
<line x1="845.30" y1="332.80" x2="850.10" y2="332.80" stroke="#000" stroke-width="2" stroke-linecap="butt"/>
<line x1="845.30" y1="311.57" x2="854.80" y2="311.57" stroke="#000" stroke-width="2" stroke-linecap="butt"/>
<line x1="845.30" y1="290.33" x2="850.10" y2="290.33" stroke="#000" stroke-width="2" stroke-linecap="butt"/>
<line x1="845.30" y1="269.10" x2="854.80" y2="269.10" stroke="#000" stroke-width="2" stroke-linecap="butt"/>
<line x1="845.30" y1="247.87" x2="850.10" y2="247.87" stroke="#000" stroke-width="2" stroke-linecap="butt"/>
<line x1="845.30" y1="226.63" x2="854.80" y2="226.63" stroke="#000" stroke-width="2" stroke-linecap="butt"/>
<line x1="845.30" y1="205.40" x2="850.10" y2="205.40" stroke="#000" stroke-width="2" stroke-linecap="butt"/>
<line x1="845.30" y1="184.17" x2="854.80" y2="184.17" stroke="#000" stroke-width="2" stroke-linecap="butt"/>
<line x1="845.30" y1="162.93" x2="850.10" y2="162.93" stroke="#000" stroke-width="2" stroke-linecap="butt"/>
<line x1="845.30" y1="141.70" x2="854.80" y2="141.70" stroke="#000" stroke-width="2" stroke-linecap="butt"/>
<line x1="845.30" y1="120.47" x2="850.10" y2="120.47" stroke="#000" stroke-width="2" stroke-linecap="butt"/>
<line x1="845.30" y1="99.23" x2="854.80" y2="99.23" stroke="#000" stroke-width="2" stroke-linecap="butt"/>
<line x1="845.30" y1="78.00" x2="850.10" y2="78.00" stroke="#000" stroke-width="2" stroke-linecap="butt"/>
<line x1="845.30" y1="56.77" x2="854.80" y2="56.77" stroke="#000" stroke-width="2" stroke-linecap="butt"/>
<line x1="845.30" y1="35.53" x2="850.10" y2="35.53" stroke="#000" stroke-width="2" stroke-linecap="butt"/>
<line x1="845.30" y1="14.30" x2="854.80" y2="14.30" stroke="#000" stroke-width="2" stroke-linecap="butt"/>
<text transform="translate(821.43,531.50) scale(0.9200,1)" font-size="25.80" fill="#000">0</text>
<text transform="translate(808.23,489.03) scale(0.9200,1)" font-size="25.80" fill="#000">10</text>
<text transform="translate(808.23,446.57) scale(0.9200,1)" font-size="25.80" fill="#000">20</text>
<text transform="translate(808.23,404.10) scale(0.9200,1)" font-size="25.80" fill="#000">30</text>
<text transform="translate(808.23,361.63) scale(0.9200,1)" font-size="25.80" fill="#000">40</text>
<text transform="translate(808.23,319.17) scale(0.9200,1)" font-size="25.80" fill="#000">50</text>
<text transform="translate(808.23,276.70) scale(0.9200,1)" font-size="25.80" fill="#000">60</text>
<text transform="translate(808.23,234.23) scale(0.9200,1)" font-size="25.80" fill="#000">70</text>
<text transform="translate(808.23,191.77) scale(0.9200,1)" font-size="25.80" fill="#000">80</text>
<text transform="translate(808.23,149.30) scale(0.9200,1)" font-size="25.80" fill="#000">90</text>
<text transform="translate(795.02,106.83) scale(0.9200,1)" font-size="25.80" fill="#000">100</text>
<text transform="translate(795.02,64.37) scale(0.9200,1)" font-size="25.80" fill="#000">110</text>
<text transform="translate(795.02,21.90) scale(0.9200,1)" font-size="25.80" fill="#000">120</text>
<line x1="1014.99" y1="523.90" x2="1014.99" y2="519.30" stroke="#000" stroke-width="2" stroke-linecap="butt"/>
<line x1="1145.32" y1="523.90" x2="1145.32" y2="519.30" stroke="#000" stroke-width="2" stroke-linecap="butt"/>
<line x1="1275.65" y1="523.90" x2="1275.65" y2="519.30" stroke="#000" stroke-width="2" stroke-linecap="butt"/>
<line x1="1431.80" y1="13.30" x2="1431.80" y2="524.90" stroke="#00FF00" stroke-width="2" stroke-linecap="butt"/>
<line x1="1431.80" y1="523.90" x2="1421.80" y2="523.90" stroke="#00FF00" stroke-width="2" stroke-linecap="butt"/>
<line x1="1431.80" y1="461.75" x2="1426.80" y2="461.75" stroke="#00FF00" stroke-width="2" stroke-linecap="butt"/>
<line x1="1431.80" y1="399.61" x2="1421.80" y2="399.61" stroke="#00FF00" stroke-width="2" stroke-linecap="butt"/>
<line x1="1431.80" y1="337.46" x2="1426.80" y2="337.46" stroke="#00FF00" stroke-width="2" stroke-linecap="butt"/>
<line x1="1431.80" y1="275.31" x2="1421.80" y2="275.31" stroke="#00FF00" stroke-width="2" stroke-linecap="butt"/>
<line x1="1431.80" y1="213.17" x2="1426.80" y2="213.17" stroke="#00FF00" stroke-width="2" stroke-linecap="butt"/>
<line x1="1431.80" y1="151.02" x2="1421.80" y2="151.02" stroke="#00FF00" stroke-width="2" stroke-linecap="butt"/>
<line x1="1431.80" y1="88.88" x2="1426.80" y2="88.88" stroke="#00FF00" stroke-width="2" stroke-linecap="butt"/>
<line x1="1431.80" y1="26.73" x2="1421.80" y2="26.73" stroke="#00FF00" stroke-width="2" stroke-linecap="butt"/>
<text transform="translate(1440.81,530.60) scale(0.9250,1)" font-size="22.00" fill="#00FF00">0</text>
<text transform="translate(1440.05,406.31) scale(0.9250,1)" font-size="22.00" fill="#00FF00">10</text>
<text transform="translate(1440.58,282.01) scale(0.9250,1)" font-size="22.00" fill="#00FF00">20</text>
<text transform="translate(1440.82,157.72) scale(0.9250,1)" font-size="22.00" fill="#00FF00">30</text>
<text transform="translate(1441.13,33.43) scale(0.9250,1)" font-size="22.00" fill="#00FF00">40</text>
<text transform="translate(926.32,556.00) scale(0.9300,1)" font-size="26.50" fill="#000">rGO</text>
<text transform="translate(1021.67,556.00) scale(0.9300,1)" font-size="26.50" fill="#000">90/10-hBN</text>
<text transform="translate(1151.95,556.00) scale(0.9300,1)" font-size="26.50" fill="#000">70/30-hBN</text>
<text transform="translate(1282.42,556.00) scale(0.9300,1)" font-size="26.50" fill="#000">50/50-hBN</text>
<text transform="translate(1043.35,600.70) scale(0.9913,1)" font-size="27.00" fill="#000">Aerogel Sample</text>
<text transform="translate(747.40,49.03) scale(1.0405,1)" font-size="34.13" fill="#000">(b)</text>
<text transform="translate(783.57,360.57) rotate(-90) scale(1.0660,1)" font-size="27.14" fill="#000">Modulus [kPa]</text>
<text transform="translate(1491.30,433.78) rotate(-90) scale(1.1042,1)" font-size="24.08" fill="#00FF00">Electrical Conductivity [S/m]</text>
<rect x="1245.10" y="29.30" width="49.60" height="26.50" fill="#0000A0"/>
<rect x="1245.10" y="59.40" width="49.60" height="26.00" fill="#00FF00"/>
<text transform="translate(1300.17,50.60) scale(0.9300,1)" font-size="24.00" fill="#000">Modulus</text>
<text transform="translate(1300.88,79.80) scale(0.9200,1)" font-size="24.00" fill="#000">Conductivity</text>
</svg></body></html>
